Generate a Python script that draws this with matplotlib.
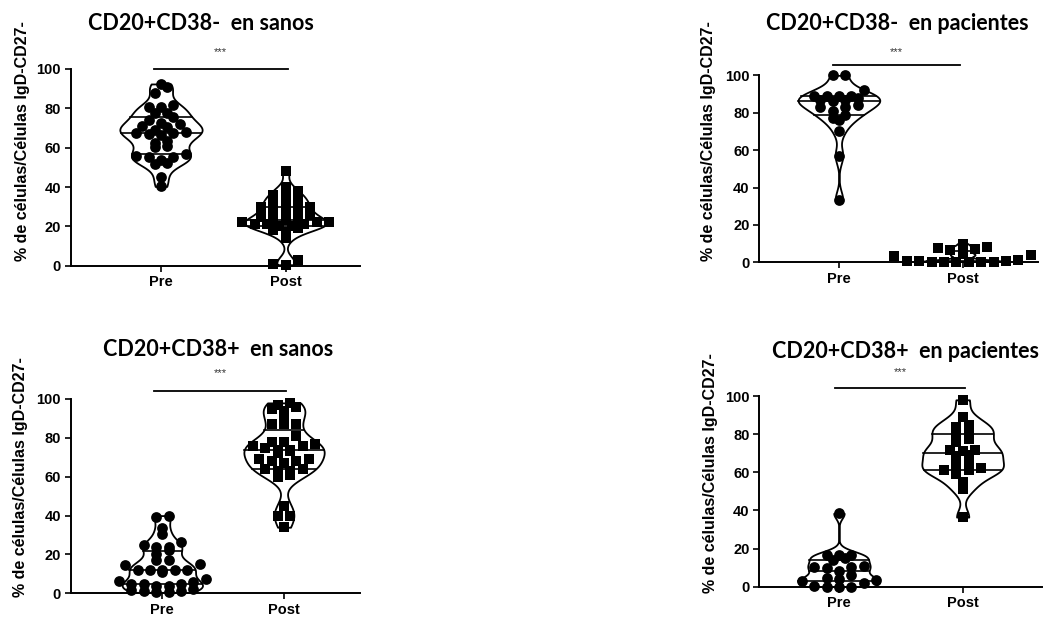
import numpy as np
import matplotlib
matplotlib.use("Agg")
import matplotlib.pyplot as plt
from matplotlib import mlab

# ---------------- data ----------------
groups = ["Pre", "Post"]
titles = ["CD20+CD38-  en sanos", "CD20+CD38-  en pacientes",
          "CD20+CD38+  en sanos", "CD20+CD38+  en pacientes"]
ylabel = "% de células/Células IgD-CD27-"
yticks = [0, 20, 40, 60, 80, 100]
signif = "***"

pre_sanos_neg = [92.4, 90.7, 88, 81.7, 80.5, 80.5, 77.8, 77.5, 75.8, 74, 72.7, 72,
                 71, 70.4, 69, 68.2, 67.7, 67.3, 67, 66.5, 63.6, 62.6, 60.9, 60.2,
                 56.9, 55.8, 55.2, 55.2, 53.8, 52.4, 51.8, 45.3, 40.3]
post_sanos_neg = [48, 40, 38, 36, 35, 34, 33, 32, 30, 30, 29, 28, 27, 26, 25, 24,
                  23, 23, 22, 22, 22, 21, 21, 21, 20, 20, 19, 18, 17, 14, 3, 1, 0.5]

pre_pac_neg = [100, 100, 92, 89, 89, 89, 89, 88, 87, 87, 86, 84, 83, 83, 81, 79,
               77, 76, 70, 57, 33.5]
post_pac_neg = [10, 8, 7.5, 7, 6.5, 4.5, 4, 3.5, 1, 0.8, 0.5, 0.5, 0.3, 0.2, 0.1,
                0, 0, 0]

pre_sanos_pos = [40, 39.5, 33.5, 30.5, 26.5, 24, 25, 24, 22.5, 20, 17, 17, 15, 14.5,
                 12, 12, 12, 12, 12, 11, 7.5, 6.5, 6, 5, 5, 5, 4, 4, 2, 1.5, 1, 1,
                 0.5, 0.5]
post_sanos_pos = [98, 97, 96, 95, 94, 92, 87, 87, 87, 81, 78, 78, 77, 76, 76, 75, 74,
                  74, 73, 72, 69, 69, 68, 68, 67, 64, 64, 63, 63, 61, 60, 45, 40, 40, 34]

pre_pac_pos = [38.5, 16.5, 16.5, 16.5, 15, 14, 11, 10.5, 10.5, 10, 8, 6, 4.5, 4, 3.5,
               3, 2, 0.5, 0, 0, 0]
post_pac_pos = [98, 89, 85, 83.5, 81.5, 81, 77.5, 76, 71.5, 71.5, 71, 69, 68.5, 64.5,
                63.5, 62, 61, 61, 59, 55, 51, 36.5]

panels = [
    (pre_sanos_neg, post_sanos_neg),
    (pre_pac_neg, post_pac_neg),
    (pre_sanos_pos, post_sanos_pos),
    (pre_pac_pos, post_pac_pos),
]

# ---------------- layout (pixels) ----------------
W, H = 1046, 621
boxes = [
    (70.7, 360.0, 69.0, 265.7, -0.724),
    (759.3, 1038.0, 75.3, 262.3, -0.644),
    (70.7, 360.0, 399.0, 593.3, -0.753),
    (759.3, 1041.7, 396.0, 586.7, -0.644),
]
ppu = [124.7, 123.7, 121.7, 123.7]
title_pos = [(201, 23.3), (897, 23.3), (218, 349.3), (906, 351.7)]
ylabel_pos = [(23, 141.5), (709, 141.5), (21, 477), (710, 473)]
bar_y = [100.2, 105.5, 104.0, 104.0]
star_y = [108.8, 112.6, 113.4, 112.7]
bar_x = [(-0.06, 1.02), (-0.05, 0.98), (-0.07, 1.02), (-0.03, 1.02)]

fig = plt.figure(figsize=(W / 100, H / 100), dpi=100)

BOLD_SANS = ["Liberation Sans", "DejaVu Sans"]
TITLE_FONT = ["Lato", "DejaVu Sans"]


def binned_offsets(vals, sx, sy, dx_px=12.4, bin_px=7.5):
    """GraphPad-like scatter: points within a y-bin are spread side by side."""
    vals = np.asarray(vals, dtype=float)
    bins = np.floor(vals * sy / bin_px).astype(int)
    offs = np.zeros(len(vals))
    for bb in np.unique(bins):
        members = np.where(bins == bb)[0]
        members = members[np.argsort(vals[members])]
        n = len(members)
        slots = np.arange(n) - (n - 1) / 2.0
        order = np.argsort(np.abs(slots), kind="stable")
        for m, sl in zip(members, slots[order]):
            offs[m] = sl * dx_px / sx
    return offs


for idx, (data_pair, box) in enumerate(zip(panels, boxes)):
    l, r, t, b, xmin = box
    ax = fig.add_axes([l / W, 1 - b / H, (r - l) / W, (b - t) / H])
    xmax = xmin + (r - l) / ppu[idx]
    ax.set_xlim(xmin, xmax)
    ax.set_ylim(0, 100)
    sx = ppu[idx]
    sy = (b - t) / 100.0

    width = 0.66
    for pos, vals in enumerate(data_pair):
        vals = np.asarray(vals, dtype=float)
        kde = mlab.GaussianKDE(vals, 0.3)
        coords = np.linspace(vals.min(), vals.max(), 200)
        dens = kde.evaluate(coords)
        stats = [dict(coords=coords, vals=dens, mean=vals.mean(),
                      median=np.median(vals), min=vals.min(), max=vals.max(),
                      quantiles=[])]
        parts = ax.violin(stats, positions=[pos], widths=width,
                          showmeans=False, showextrema=False, showmedians=False)
        for body in parts["bodies"]:
            body.set_facecolor("white")
            body.set_edgecolor("black")
            body.set_linewidth(1.3)
            body.set_alpha(1)
            body.set_zorder(2)
        for q in np.percentile(vals, [25, 50, 75]):
            hw = 0.5 * width * np.interp(q, coords, dens) / dens.max()
            ax.plot([pos - hw, pos + hw], [q, q], color="black", lw=1.2, zorder=3)
        offs = binned_offsets(vals, sx, sy)
        ax.scatter(pos + offs, vals, marker="o" if pos == 0 else "s",
                   s=60 if pos == 0 else 52, color="black", zorder=4,
                   clip_on=False, linewidths=0)

    for sp in ["top", "right"]:
        ax.spines[sp].set_visible(False)
    for sp in ["left", "bottom"]:
        ax.spines[sp].set_linewidth(1.4)
    ax.set_xticks([0, 1])
    ax.set_xticklabels(groups)
    ax.set_yticks(yticks)
    ax.tick_params(axis="both", direction="out", length=4, width=1.2, pad=3)
    for lab in ax.get_xticklabels() + ax.get_yticklabels():
        lab.set_fontfamily(BOLD_SANS)
        lab.set_fontweight("bold")
        lab.set_fontsize(10.5)

    ax.plot(bar_x[idx], [bar_y[idx], bar_y[idx]], color="black", lw=1.3,
            clip_on=False, zorder=5)
    ax.text(0.5 * (bar_x[idx][0] + bar_x[idx][1]), star_y[idx], signif,
            ha="center", va="center", fontsize=8, color="#333333",
            family=BOLD_SANS)

    tx, ty = title_pos[idx]
    fig.text(tx / W, 1 - ty / H, titles[idx], ha="center", va="center",
             fontsize=15.5, fontweight="bold", family=TITLE_FONT)
    lx, lyy = ylabel_pos[idx]
    fig.text(lx / W, 1 - lyy / H, ylabel, ha="center", va="center",
             rotation=90, fontsize=11.5, fontweight="bold", family=BOLD_SANS)

fig.savefig("out.png", dpi=100, facecolor="white")
